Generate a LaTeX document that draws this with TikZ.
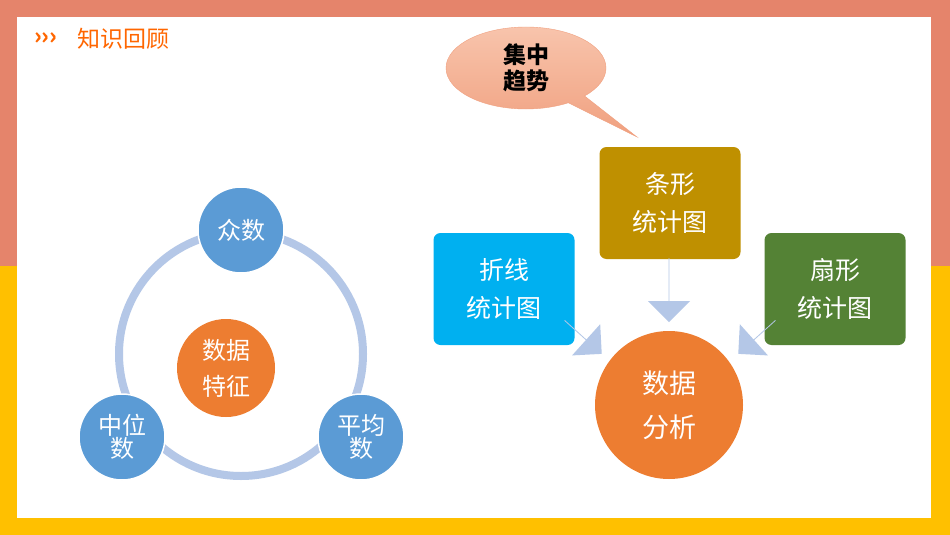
\documentclass[tikz,border=0pt]{standalone}
\usepackage{fontspec}
\setmainfont{Noto Sans CJK SC}
\usetikzlibrary{shapes.arrows,shapes.callouts}
\definecolor{salmon}{HTML}{E5846B}
\definecolor{gold}{HTML}{FFC000}
\definecolor{ringc}{HTML}{B4C7E7}
\definecolor{blu}{HTML}{5B9BD5}
\definecolor{org}{HTML}{ED7D31}
\definecolor{tit}{HTML}{FF6600}
\definecolor{bar}{HTML}{BF9000}
\definecolor{line}{HTML}{00B0F0}
\definecolor{pie}{HTML}{548235}
\definecolor{calt}{HTML}{F8C4AC}
\definecolor{calb}{HTML}{F0A07F}
\tikzset{
 bub/.style={circle,fill=blu,draw=white,line width=1.5pt,minimum size=86pt,text=white,font=\fontsize{24}{27}\selectfont,align=center,inner sep=0pt},
 ctr/.style={circle,fill=org,text=white,align=center,inner sep=0pt},
 bx/.style={rounded corners=7pt,minimum width=141pt,minimum height=112pt,text=white,font=\fontsize{25}{38}\selectfont,align=center},
 barr/.style={single arrow,fill=ringc,minimum width=42pt,single arrow head extend=10pt,single arrow head indent=0pt,inner sep=0pt,shape border uses incircle=false}
}
\begin{document}
\begin{tikzpicture}[x=1pt,y=-1pt]
\useasboundingbox (0,0) rectangle (950,535);
\fill[salmon] (0,0) rectangle (950,266);
\fill[gold] (0,266) rectangle (950,535);
\fill[white] (17,17) rectangle (931,518);
% title
\node[text=tit,font=\fontsize{23}{23}\selectfont\bfseries,anchor=west,inner sep=0pt] (chev) at (34,39) {›››};
\node[text=tit,font=\fontsize{23}{23}\selectfont,anchor=west,inner sep=0pt] (title) at (77,39) {知识回顾};
% ring
\coordinate (rc) at (241,354);
\draw[ringc,line width=8pt] (rc) circle (122);
\node[bub] (zs) at (241,230) {众数};
\node[bub] (zw) at (122,437) {中位\\[-4pt]数};
\node[bub] (pj) at (361,437) {平均\\[-4pt]数};
\node[ctr,minimum size=98pt,font=\fontsize{24}{36}\selectfont] (tz) at (226,368) {数据\\特征};
% right
\node[bx,fill=bar] (tx) at (670,203) {条形\\统计图};
\node[bx,fill=line] (zx) at (504,289) {折线\\统计图};
\node[bx,fill=pie] (sx) at (835,289) {扇形\\统计图};
\node[ctr,minimum size=148pt,font=\fontsize{27}{44}\selectfont] (fx) at (669,405) {数据\\分析};
\node[barr,rotate=-90,minimum height=64pt] (a1) at (669,290) {};
\node[barr,rotate=-42,minimum height=50pt] (a2) at (583,337) {};
\node[barr,rotate=-138,minimum height=50pt] (a3) at (757,337) {};
% callout
\node[ellipse callout,callout absolute pointer={(637,137)},
  top color=calt,bottom color=calb,draw=calb,
  minimum width=160pt,minimum height=82pt,font=\fontsize{23}{26}\selectfont\bfseries,align=center,inner sep=0pt] (jz) at (526,68) {集中\\趋势};
\end{tikzpicture}
\end{document}
